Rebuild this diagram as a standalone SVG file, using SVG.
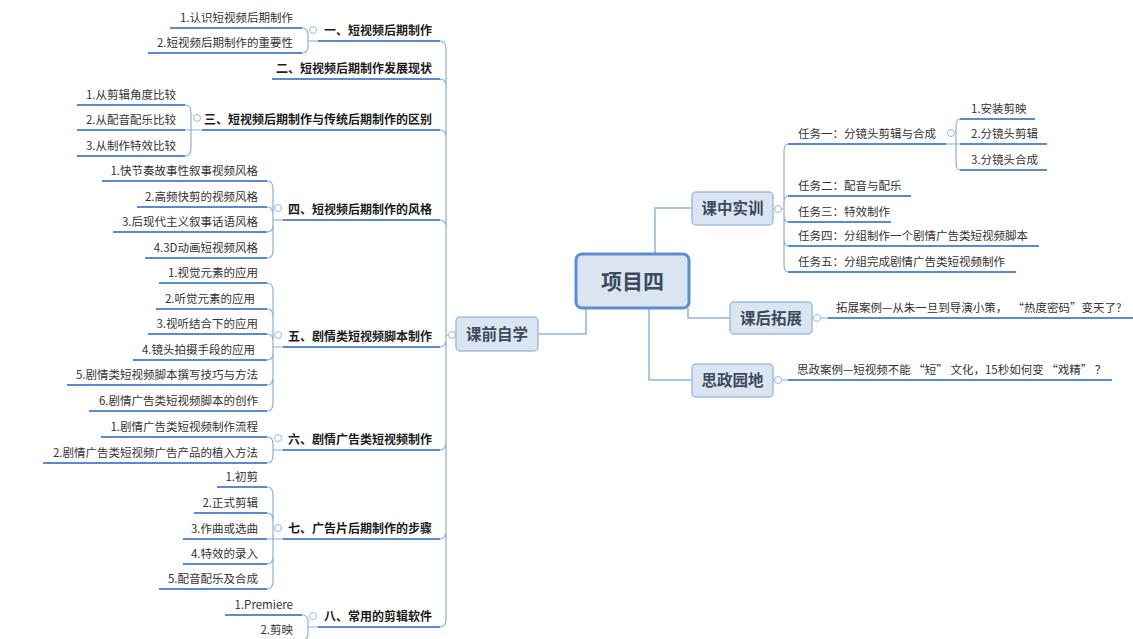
<svg xmlns="http://www.w3.org/2000/svg" width="1133" height="639" viewBox="0 0 1133 639">
<style>
text{font-family:"Microsoft YaHei","Noto Sans CJK SC","Noto Sans",sans-serif}
.u{stroke:#5a8bcd;stroke-width:2;fill:none}
.b{stroke:#8aaedb;stroke-width:1.2;fill:none}
.k{stroke:#8fb2de;stroke-width:1.5;fill:none}
.c{fill:#fff;stroke:#9ab8df;stroke-width:1}
.t3{font-size:11.5px;fill:#333;text-anchor:end}
.t2{font-size:12px;font-weight:bold;fill:#1c1c1c;text-anchor:end}
.r3{font-size:11.5px;fill:#333}
.nb{fill:#dbe5f1;stroke:#a3bde0;stroke-width:1.5}
.nt{font-size:15.5px;font-weight:bold;fill:#3b4a5e;text-anchor:middle}
</style>
<rect width="1133" height="639" fill="#fff"/>
<g id="connectors">
<path class="k" d="M538 334 H586 V308"/>
<path class="k" d="M655 253 V208 H692"/>
<path class="k" d="M688 308 V318 H730"/>
<path class="k" d="M649 308 V380 H692"/>
<path class="b" d="M440 41 Q446 41 446 49 L446 335 M440 79 Q446 79 446 87 L446 335 M440 130 Q446 130 446 138 L446 335 M440 220 Q446 220 446 228 L446 335 M440 347 Q446 347 446 339 L446 335 M440 450 Q446 450 446 442 L446 335 M440 539 Q446 539 446 531 L446 335 M440 627 Q446 627 446 619 L446 335 M446 335 H448.5"/>
<path class="b" d="M455.5 335 H456"/>
<path class="b" d="M302 28 Q308 28 308 35 L308 41 M302 53 Q308 53 308 46 L308 41 M308 41 H318"/>
<path class="b" d="M185 105 Q191 105 191 113 L191 130 M185 156 Q191 156 191 148 L191 130 M185 130 H202"/>
<path class="b" d="M267 181 Q273 181 273 189 L273 220 M267 207 Q273 207 273 215 L273 220 M267 232 Q273 232 273 225 L273 220 M267 258 Q273 258 273 250 L273 220 M273 220 H283"/>
<path class="b" d="M267 283 Q273 283 273 291 L273 347 M267 309 Q273 309 273 317 L273 347 M267 334 Q273 334 273 341 L273 347 M267 360 Q273 360 273 353 L273 347 M267 385 Q273 385 273 377 L273 347 M267 411 Q273 411 273 403 L273 347 M273 347 H283"/>
<path class="b" d="M267 437 Q273 437 273 444 L273 450 M267 463 Q273 463 273 456 L273 450 M273 450 H283"/>
<path class="b" d="M267 487 Q273 487 273 495 L273 539 M267 513 Q273 513 273 521 L273 539 M267 539 H283 M267 564 Q273 564 273 556 L273 539 M267 589 Q273 589 273 581 L273 539"/>
<path class="b" d="M302 615 Q308 615 308 621 L308 627 M302 640 Q308 640 308 633 L308 627 M308 627 H318"/>
<path class="b" d="M773 209 H774.5 M781.5 209 H784 M788 144 Q784 144 784 152 L784 209 M788 196 Q784 196 784 203 L784 209 M788 222 Q784 222 784 215 L784 209 M788 246 Q784 246 784 238 L784 209 M788 272 Q784 272 784 264 L784 209"/>
<path class="b" d="M946 144 H960 M960 119 Q956 119 956 127 L956 144 M960 170 Q956 170 956 162 L956 144"/>
<path class="b" d="M812 318 H813.5 M820.5 318 H828"/>
<path class="b" d="M773 380 H774.5 M781.5 380 H788"/>
</g>
<g id="center">
<rect x="576" y="254" width="113" height="54" rx="6" fill="#dbe5f1" stroke="#5a8ed0" stroke-width="3"/>
<text x="632.5" y="288.5" style="font-size:21px;font-weight:bold;fill:#3b4a5e;text-anchor:middle">项目四</text>
</g>
<g id="kqzx">
<rect class="nb" x="456" y="317" width="82" height="34" rx="4"/>
<text class="nt" x="497" y="339.5">课前自学</text>
<circle class="c" cx="452" cy="335" r="3.5"/>
</g>
<g id="kzsx">
<rect class="nb" x="692" y="192" width="81" height="33" rx="4"/>
<text class="nt" x="732.5" y="214">课中实训</text>
<circle class="c" cx="778" cy="209" r="3.5"/>
</g>
<g id="khtz">
<rect class="nb" x="730" y="302" width="82" height="32" rx="4"/>
<text class="nt" x="771" y="323.5">课后拓展</text>
<circle class="c" cx="817" cy="318" r="3.5"/>
</g>
<g id="szyd">
<rect class="nb" x="692" y="364" width="81" height="33" rx="4"/>
<text class="nt" x="732.5" y="386">思政园地</text>
<circle class="c" cx="778" cy="380" r="3.5"/>
</g>
<g id="l1">
<path class="u" d="M318 41 H440"/><text class="t2" x="432" y="35">一、短视频后期制作</text>
<circle class="c" cx="313" cy="30" r="3.5"/>
<path class="u" d="M170 28 H302"/><text class="t3" x="293" y="22">1.认识短视频后期制作</text>
<path class="u" d="M148 53 H302"/><text class="t3" x="293" y="47">2.短视频后期制作的重要性</text>
</g>
<g id="l2">
<path class="u" d="M272 79 H440"/><text class="t2" x="432" y="73">二、短视频后期制作发展现状</text>
</g>
<g id="l3">
<path class="u" d="M202 130 H440"/><text class="t2" x="432" y="124">三、短视频后期制作与传统后期制作的区别</text>
<circle class="c" cx="197" cy="118" r="3.5"/>
<path class="u" d="M77 105 H185"/><text class="t3" x="176" y="99">1.从剪辑角度比较</text>
<path class="u" d="M77 130 H185"/><text class="t3" x="176" y="124">2.从配音配乐比较</text>
<path class="u" d="M77 156 H185"/><text class="t3" x="176" y="150">3.从制作特效比较</text>
</g>
<g id="l4">
<path class="u" d="M283 220 H440"/><text class="t2" x="432" y="214">四、短视频后期制作的风格</text>
<circle class="c" cx="278" cy="208" r="3.5"/>
<path class="u" d="M102 181 H267"/><text class="t3" x="258" y="175">1.快节奏故事性叙事视频风格</text>
<path class="u" d="M137 207 H267"/><text class="t3" x="258" y="201">2.高频快剪的视频风格</text>
<path class="u" d="M113 232 H267"/><text class="t3" x="258" y="226">3.后现代主义叙事话语风格</text>
<path class="u" d="M145 258 H267"/><text class="t3" x="258" y="252">4.3D动画短视频风格</text>
</g>
<g id="l5">
<path class="u" d="M283 347 H440"/><text class="t2" x="432" y="341">五、剧情类短视频脚本制作</text>
<circle class="c" cx="278" cy="335" r="3.5"/>
<path class="u" d="M159 283 H267"/><text class="t3" x="258" y="277">1.视觉元素的应用</text>
<path class="u" d="M156 309 H267"/><text class="t3" x="255" y="303">2.听觉元素的应用</text>
<path class="u" d="M148 334 H267"/><text class="t3" x="258" y="328">3.视听结合下的应用</text>
<path class="u" d="M133 360 H267"/><text class="t3" x="255" y="354">4.镜头拍摄手段的应用</text>
<path class="u" d="M67 385 H267"/><text class="t3" x="258" y="379">5.剧情类短视频脚本撰写技巧与方法</text>
<path class="u" d="M89 411 H267"/><text class="t3" x="258" y="405">6.剧情广告类短视频脚本的创作</text>
</g>
<g id="l6">
<path class="u" d="M283 450 H440"/><text class="t2" x="432" y="444">六、剧情广告类短视频制作</text>
<circle class="c" cx="278" cy="438" r="3.5"/>
<path class="u" d="M101 437 H267"/><text class="t3" x="258" y="431">1.剧情广告类短视频制作流程</text>
<path class="u" d="M43 463 H267"/><text class="t3" x="258" y="457">2.剧情广告类短视频广告产品的植入方法</text>
</g>
<g id="l7">
<path class="u" d="M283 539 H440"/><text class="t2" x="432" y="533">七、广告片后期制作的步骤</text>
<circle class="c" cx="278" cy="528" r="3.5"/>
<path class="u" d="M217 487 H267"/><text class="t3" x="258" y="481">1.初剪</text>
<path class="u" d="M194 513 H267"/><text class="t3" x="258" y="507">2.正式剪辑</text>
<path class="u" d="M183 539 H267"/><text class="t3" x="258" y="533">3.作曲或选曲</text>
<path class="u" d="M183 564 H267"/><text class="t3" x="258" y="558">4.特效的录入</text>
<path class="u" d="M159 589 H267"/><text class="t3" x="258" y="583">5.配音配乐及合成</text>
</g>
<g id="l8">
<path class="u" d="M318 627 H440"/><text class="t2" x="432" y="621">八、常用的剪辑软件</text>
<circle class="c" cx="313" cy="616" r="3.5"/>
<path class="u" d="M225 615 H302"/><text class="t3" x="293" y="609">1.Premiere</text>
<path class="u" d="M250 640 H302"/><text class="t3" x="293" y="634">2.剪映</text>
</g>
<g id="r-tasks">
<path class="u" d="M788 144 H946"/><text class="r3" x="798" y="138">任务一：分镜头剪辑与合成</text>
<circle class="c" cx="951" cy="133" r="3.5"/>
<path class="u" d="M960 119 H1035"/><text class="r3" x="971" y="113">1.安装剪映</text>
<path class="u" d="M960 144 H1047"/><text class="r3" x="971" y="138">2.分镜头剪辑</text>
<path class="u" d="M960 170 H1047"/><text class="r3" x="971" y="164">3.分镜头合成</text>
<path class="u" d="M788 196 H911"/><text class="r3" x="798" y="190">任务二：配音与配乐</text>
<path class="u" d="M788 222 H891"/><text class="r3" x="798" y="216">任务三：特效制作</text>
<path class="u" d="M788 246 H1039"/><text class="r3" x="798" y="240">任务四：分组制作一个剧情广告类短视频脚本</text>
<path class="u" d="M788 272 H1016"/><text class="r3" x="798" y="266">任务五：分组完成剧情广告类短视频制作</text>
</g>
<g id="r-tz">
<path class="u" d="M828 318 H1133"/><text class="r3" x="836" y="312" xml:space="preserve">拓展案例—从朱一旦到导演小策，  “热度密码”变天了?</text>
</g>
<g id="r-sz">
<path class="u" d="M788 380 H1112"/><text class="r3" x="797" y="374" xml:space="preserve">思政案例—短视频不能 “短” 文化，15秒如何变 “戏精” ？</text>
</g>
</svg>
